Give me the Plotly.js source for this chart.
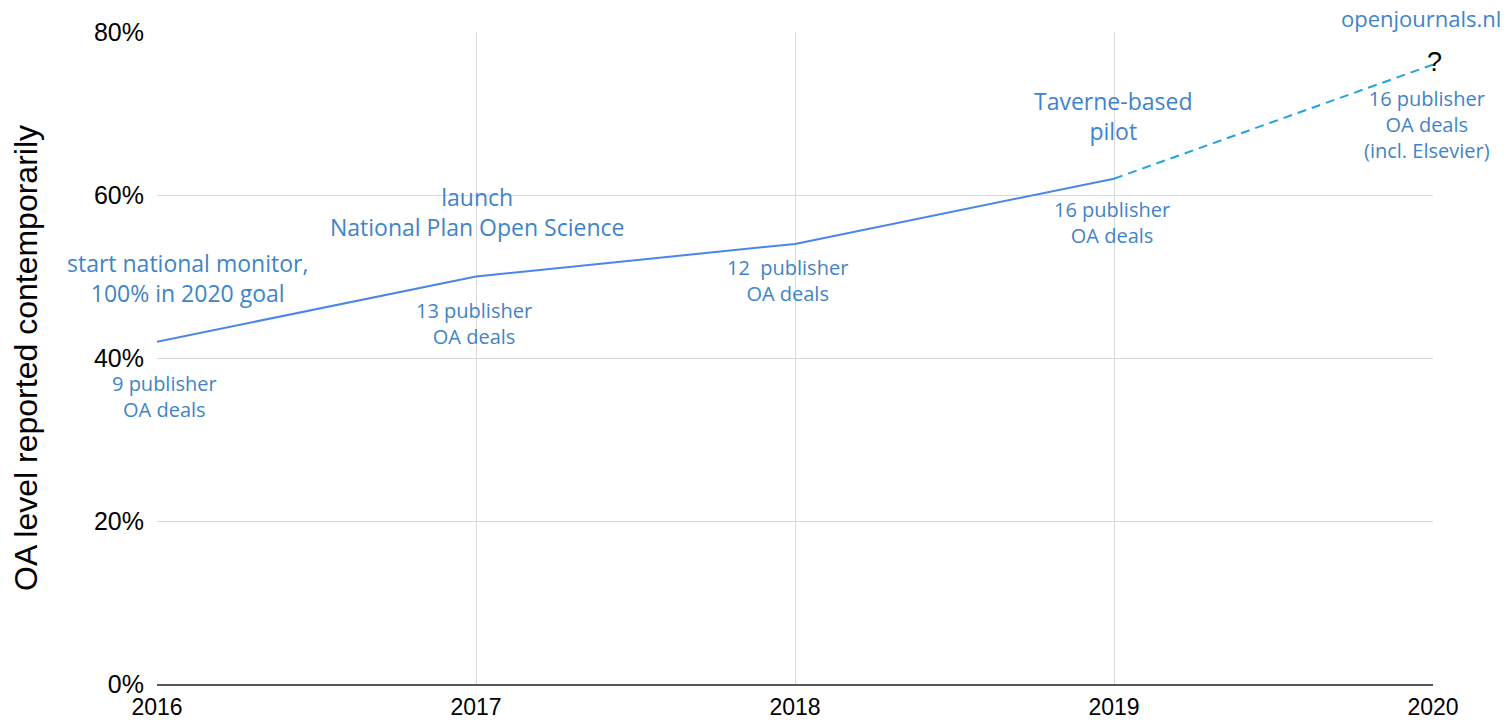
<!DOCTYPE html>
<html>
<head>
<meta charset="utf-8">
<script src="https://cdn.plot.ly/plotly-3.0.1.min.js"></script>
<style>html,body{margin:0;padding:0;background:#fff;}#chart{width:1510px;height:722px;}</style>
</head>
<body>
<div id="chart"></div>
<script>
const years = [2016, 2017, 2018, 2019];
const oaLevel = [42, 50, 54, 62];
const projYears = [2019, 2020];
const projLevel = [62, 76];
const xTicks = [2016, 2017, 2018, 2019, 2020];
const yTicks = [0, 20, 40, 60, 80];

const noteTexts = [
  'start national monitor,<br>100% in 2020 goal',
  '9 publisher<br>OA deals',
  'launch<br>National Plan Open Science',
  '13 publisher<br>OA deals',
  '12  publisher<br>OA deals',
  'Taverne-based<br>pilot',
  '16 publisher<br>OA deals',
  '16 publisher<br>OA deals<br>(incl. Elsevier)'
];
const noteX = [2016.097, 2016.025, 2017.003, 2016.994, 2017.975, 2018.997, 2018.994, 2019.98];
const noteY = [49.8, 35.3, 57.9, 44.2, 49.5, 69.7, 56.6, 68.6];
const noteSize = [23, 20, 23, 20, 20, 23, 20, 20];

const noteColor = '#3f84c9';
const noteFont = '"Open Sans", Lato, sans-serif';

const annotations = noteTexts.map((t, i) => ({
  text: t, x: noteX[i], y: noteY[i], xref: 'x', yref: 'y',
  showarrow: false, xanchor: 'center', yanchor: 'middle', align: 'center',
  font: {family: noteFont, size: noteSize[i], color: noteColor}
}));
annotations.push({
  text: '?', x: 2020, y: 76.3, xref: 'x', yref: 'y', showarrow: false,
  xanchor: 'center', yanchor: 'middle', xshift: 1,
  font: {family: 'Liberation Sans, Arial, sans-serif', size: 27, color: '#000'}
});
annotations.push({
  text: 'openjournals.nl', x: 1, xref: 'paper', xanchor: 'right',
  y: 1, yref: 'paper', yanchor: 'bottom', showarrow: false, xshift: 70, yshift: -3,
  font: {family: noteFont, size: 22, color: noteColor}
});

const data = [
  {x: years, y: oaLevel, type: 'scatter', mode: 'lines',
   line: {color: '#4a86e8', width: 2}, hoverinfo: 'skip'},
  {x: projYears, y: projLevel, type: 'scatter', mode: 'lines',
   line: {color: '#1fa5e0', width: 2, dash: '9px,6px'}, hoverinfo: 'skip'}
];

const layout = {
  width: 1510, height: 722,
  margin: {l: 157, r: 77, t: 32, b: 38},
  paper_bgcolor: '#fff', plot_bgcolor: '#fff',
  showlegend: false,
  font: {family: 'Liberation Sans, Arial, sans-serif', color: '#000'},
  xaxis: {
    range: [2016, 2020], tickvals: xTicks, ticktext: xTicks.map(String),
    showgrid: true, gridcolor: '#d9d9d9', gridwidth: 1,
    showline: true, linecolor: '#555', linewidth: 1.5,
    zeroline: false, ticks: '', ticklabelstandoff: 2,
    tickfont: {size: 23, color: '#000'}
  },
  yaxis: {
    range: [0, 80], tickvals: yTicks, ticktext: yTicks.map(v => v + '%'),
    showgrid: true, gridcolor: '#d9d9d9', gridwidth: 1,
    zeroline: false, ticks: '', ticklabelstandoff: 12,
    tickfont: {size: 25, color: '#000'},
    title: {text: 'OA level reported contemporarily', font: {size: 32, color: '#000'}, standoff: 46}
  },
  annotations: annotations
};

Plotly.newPlot('chart', data, layout, {displayModeBar: false, staticPlot: true});
</script>
</body>
</html>
